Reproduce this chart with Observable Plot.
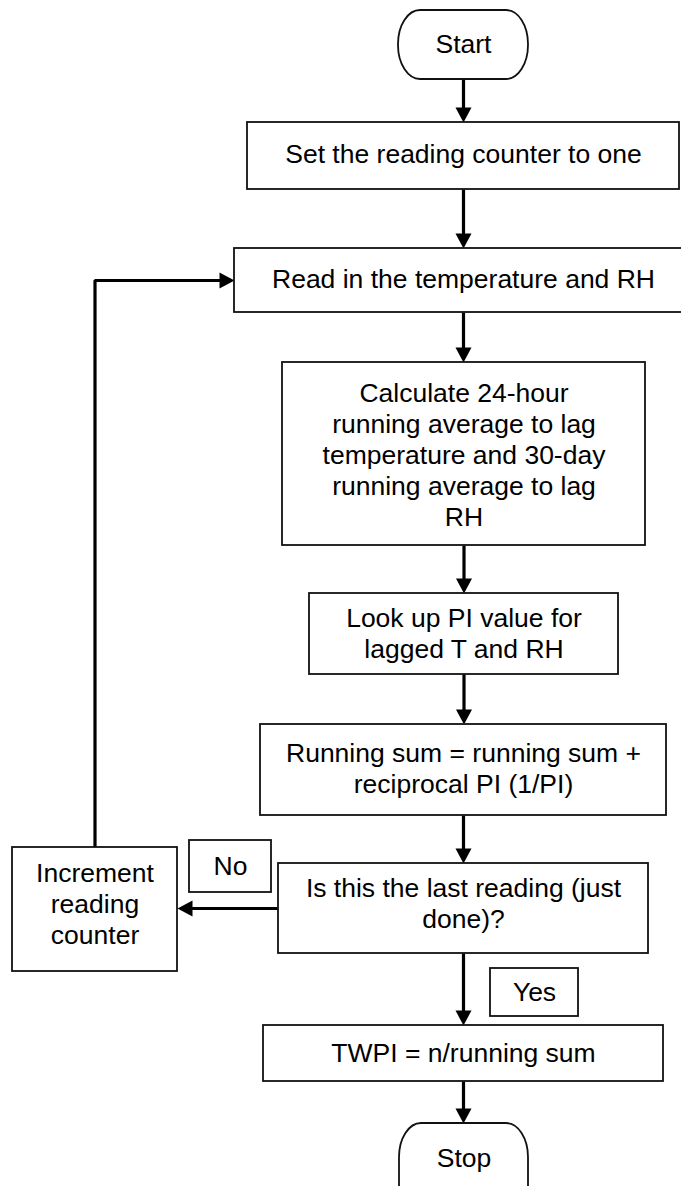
<!DOCTYPE html>
<html>
<head>
<meta charset="utf-8">
<script src="https://cdn.jsdelivr.net/npm/d3@7"></script>
<script src="https://cdn.jsdelivr.net/npm/@observablehq/plot@0.6"></script>
<style>
  html, body { margin: 0; padding: 0; background: #fff; }
  #chart { width: 681px; height: 1186px; overflow: hidden; }
</style>
</head>
<body>
<div id="chart"></div>
<script>
// ---- Data: flowchart content ----
const nodeIds = ["start", "set", "read", "calc", "lookup", "sum", "last", "twpi", "stop", "incr"];
const nodeLabels = [
  "Start",
  "Set the reading counter to one",
  "Read in the temperature and RH",
  "Calculate 24-hour\nrunning average to lag\ntemperature and 30-day\nrunning average to lag\nRH",
  "Look up PI value for\nlagged T and RH",
  "Running sum = running sum +\nreciprocal PI (1/PI)",
  "Is this the last reading (just\ndone)?",
  "TWPI = n/running sum",
  "Stop",
  "Increment\nreading\ncounter"
];
const nodeShapes = ["terminal", "process", "process", "process", "process", "process", "decision", "process", "terminal", "process"];
const edgeFrom = ["start", "set", "read", "calc", "lookup", "sum", "last", "twpi", "last", "incr"];
const edgeTo   = ["set", "read", "calc", "lookup", "sum", "last", "twpi", "stop", "incr", "read"];
const edgeLabels = ["", "", "", "", "", "", "Yes", "", "No", ""];

// ---- Layout (pixel geometry of the drawing) ----
const layout = {
  start:  {x1: 398, x2: 528, y1: 10,   y2: 79,   ty: 43},
  set:    {x1: 247, x2: 679, y1: 122,  y2: 189,  ty: 153},
  read:   {x1: 234, x2: 692, y1: 248,  y2: 312,  ty: 278},
  calc:   {x1: 282, x2: 645, y1: 362,  y2: 545,  ty: 454},
  lookup: {x1: 309, x2: 618, y1: 593,  y2: 674,  ty: 632},
  sum:    {x1: 260, x2: 666, y1: 724,  y2: 815,  ty: 767},
  last:   {x1: 278, x2: 648, y1: 863,  y2: 953,  ty: 902},
  twpi:   {x1: 263, x2: 663, y1: 1025, y2: 1081, ty: 1052},
  stop:   {x1: 399, x2: 528, y1: 1123, y2: 1240, ty: 1157},
  incr:   {x1: 12,  x2: 177, y1: 847,  y2: 971,  ty: 903}
};
const labelLayout = {
  Yes: {x1: 490, x2: 578, y1: 968, y2: 1016},
  No:  {x1: 189, x2: 271, y1: 840, y2: 892}
};
const headW = 16, headH = 15;

// ---- Build tables ----
const nodes = nodeIds.map((id, i) => ({
  id, label: nodeLabels[i], shape: nodeShapes[i], ...layout[id],
  cx: (layout[id].x1 + layout[id].x2) / 2
}));

function route(a, b) {
  const A = layout[a], B = layout[b];
  const acx = (A.x1 + A.x2) / 2, acy = (A.y1 + A.y2) / 2, bcy = (B.y1 + B.y2) / 2;
  if (B.y1 >= A.y2) return {pts: [[acx, A.y2], [acx, B.y1]], dir: "down"};
  if (B.x2 <= A.x1) return {pts: [[A.x1, acy], [B.x2, acy]], dir: "left"};
  return {pts: [[acx, A.y1], [acx, bcy], [B.x1, bcy]], dir: "right"};
}

const shafts = [];
const heads = [];
edgeFrom.forEach((f, i) => {
  const r = route(f, edgeTo[i]);
  const pts = r.pts.map(p => p.slice());
  const tip = pts[pts.length - 1].slice();
  const last = pts[pts.length - 1];
  const back = headH - 2;
  if (r.dir === "down") last[1] -= back;
  if (r.dir === "left") last[0] += back;
  if (r.dir === "right") last[0] -= back;
  pts.forEach(([x, y]) => shafts.push({edge: i, x, y}));
  heads.push({edge: i, x: tip[0], y: tip[1], dir: r.dir});
});

const labelBoxes = edgeLabels.filter(d => d).map(t => ({text: t, ...labelLayout[t]}));

// custom arrowhead symbols (tip at the anchor point)
const sym = (pts) => ({draw(ctx) { ctx.moveTo(...pts[0]); ctx.lineTo(...pts[1]); ctx.lineTo(...pts[2]); ctx.closePath(); }});
const downHead  = sym([[0, 0], [-headW / 2, -headH], [headW / 2, -headH]]);
const leftHead  = sym([[0, 0], [headH, -headW / 2], [headH, headW / 2]]);
const rightHead = sym([[0, 0], [-headH, -headW / 2], [-headH, headW / 2]]);

const font = "'Liberation Sans', Arial, Helvetica, sans-serif";
const fs = 26.5;

const chart = Plot.plot({
  width: 681,
  height: 1186,
  margin: 0,
  x: {domain: [0, 681], range: [0, 681], axis: null},
  y: {domain: [0, 1186], range: [0, 1186], axis: null},
  style: {fontFamily: font, background: "#fff", overflow: "hidden"},
  marks: [
    // connectors
    Plot.line(shafts, {x: "x", y: "y", z: "edge", stroke: "#000", strokeWidth: 3.2, strokeLinejoin: "miter", strokeLinecap: "butt", curve: "linear"}),
    Plot.dot(heads.filter(d => d.dir === "down"), {x: "x", y: "y", symbol: downHead, fill: "#000", stroke: "none"}),
    Plot.dot(heads.filter(d => d.dir === "left"), {x: "x", y: "y", symbol: leftHead, fill: "#000", stroke: "none"}),
    Plot.dot(heads.filter(d => d.dir === "right"), {x: "x", y: "y", symbol: rightHead, fill: "#000", stroke: "none"}),
    // process boxes
    Plot.rect(nodes.filter(d => d.shape !== "terminal"), {x1: "x1", x2: "x2", y1: "y1", y2: "y2", fill: "#fff", stroke: "#111", strokeWidth: 1.8}),
    // terminals
    Plot.rect(nodes.filter(d => d.shape === "terminal"), {x1: "x1", x2: "x2", y1: "y1", y2: "y2", rx: 22, ry: 34, fill: "#fff", stroke: "#111", strokeWidth: 1.8}),
    // branch labels
    Plot.rect(labelBoxes, {x1: "x1", x2: "x2", y1: "y1", y2: "y2", fill: "#fff", stroke: "#111", strokeWidth: 1.8}),
    Plot.text(labelBoxes, {x: d => (d.x1 + d.x2) / 2, y: d => (d.y1 + d.y2) / 2, text: "text", fontSize: fs, fill: "#000", fontFamily: font}),
    // node texts
    Plot.text(nodes, {x: "cx", y: "ty", text: "label", fontSize: fs, lineHeight: 1.17, fill: "#000", fontFamily: font})
  ]
});
document.getElementById("chart").appendChild(chart);
</script>
</body>
</html>
